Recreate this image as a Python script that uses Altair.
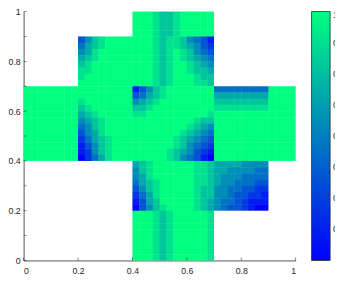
import altair as alt
import pandas as pd

# colour levels used in the grids below (digit -> value)
LEVEL_VALUES = [0.2, 0.289, 0.378, 0.467, 0.556, 0.644, 0.733, 0.822, 0.911, 1.0]
CELL = 0.025
OVERLAP = 0.0015  # hides anti-aliasing seams between neighbouring cells

# y 1.0 -> 0.9
ROWS_TOP = [
    "................999877899999............",
    "................999877899999............",
    "................999877899999............",
    "................999877899999............",
]
# y 0.9 -> 0.7
ROWS_UPPER = [
    "........35789999999878875431............",
    "........46789999999878876532............",
    "........56899999999878987543............",
    "........67899999999878987654............",
    "........78999999999878998765............",
    "........88999999999878998776............",
    "........89999999999878999877............",
    "........99999999999878999887............",
]
# y 0.7 -> 0.4
ROWS_MIDDLE = [
    "9999999999999999135789999999444444449999",
    "9999999999999999346789999999666666669999",
    "9999999989999999567899999999777777779999",
    "9999999978999999778999999999888888889999",
    "9999999967899999889999999998999999999999",
    "9999999956789999999999999877999999999999",
    "9999999945789999999999998765999999999999",
    "9999999935689999999999987654999999999999",
    "9999999924678999999999876543999999999999",
    "9999999913578999999999875432999999999999",
    "9999999912578999999998765321999999999999",
    "9999999902468999999998754310999999999999",
]
# y 0.4 -> 0.2
ROWS_LOWER = [
    "................67899999988766665555....",
    "................57899999988766555544....",
    "................56899999988765554444....",
    "................46789999988765544433....",
    "................35789999987755443322....",
    "................24689999987755433221....",
    "................13679999987654432111....",
    "................03578999987654332100....",
]
# y 0.2 -> 0.0
ROWS_BOTTOM = [
    "................999878999998............",
] * 8

X_TICKS = [0, 0.2, 0.4, 0.6, 0.8, 1]
Y_TICKS = [0, 0.1, 0.2, 0.3, 0.4, 0.5, 0.6, 0.7, 0.8, 0.9, 1]
CBAR_TICKS = [0.3, 0.4, 0.5, 0.6, 0.7, 0.8, 0.9, 1]

ROWS = ROWS_TOP + ROWS_UPPER + ROWS_MIDDLE + ROWS_LOWER + ROWS_BOTTOM

records = []
for j, row in enumerate(ROWS):
    for i, ch in enumerate(row):
        if ch == ".":
            continue
        x_end = (i + 1) * CELL
        nxt = row[i + 1] if i + 1 < len(row) else "."
        if nxt != ".":
            x_end += OVERLAP
        y_start = 1 - (j + 1) * CELL
        below = ROWS[j + 1][i] if j + 1 < len(ROWS) else "."
        if below != ".":
            y_start -= OVERLAP
        records.append({
            "x0": i * CELL, "x1": x_end,
            "y1": 1 - j * CELL, "y0": y_start,
            "v": LEVEL_VALUES[int(ch)],
        })
cells = pd.DataFrame(records)

FONT = "Liberation Sans"
TXT = "#262626"
W, H = 278.7, 255

cscale = alt.Scale(domain=[0.2, 1], range=["#0000ff", "#00ff80"], interpolate="rgb")
xscale = alt.Scale(domain=[0, 1], nice=False, zero=False)
yscale = alt.Scale(domain=[0, 1], nice=False, zero=False)

heat = alt.Chart(cells).mark_rect().encode(
    x=alt.X("x0:Q", scale=xscale, title=None,
            axis=alt.Axis(values=X_TICKS, format=".1~f", labelPadding=6)),
    x2="x1:Q",
    y=alt.Y("y0:Q", scale=yscale, title=None,
            axis=alt.Axis(values=Y_TICKS, format=".1~f", labelPadding=3.5)),
    y2="y1:Q",
    color=alt.Color("v:Q", scale=cscale, legend=alt.Legend(
        type="gradient", orient="none", legendX=295, legendY=0,
        direction="vertical", gradientLength=255, gradientThickness=19,
        title=None, values=CBAR_TICKS, format=".1~f", labelFontSize=9,
        labelFont=FONT, labelColor=TXT, labelOffset=3,
        gradientStrokeColor=TXT, gradientStrokeWidth=0.8, padding=0)),
)

xt = alt.Chart(pd.DataFrame({"t": X_TICKS})).mark_tick(
    orient="vertical", size=3, thickness=0.8, color=TXT
).encode(x=alt.X("t:Q", scale=xscale), y=alt.value(H - 1.5))

yt = alt.Chart(pd.DataFrame({"t": Y_TICKS})).mark_tick(
    orient="horizontal", size=3, thickness=0.8, color=TXT
).encode(y=alt.Y("t:Q", scale=yscale), x=alt.value(1.5))

chart = alt.layer(heat, xt, yt).properties(
    width=W, height=H,
    autosize=alt.AutoSizeParams(type="none"),
    padding={"left": 16, "top": 0.3, "right": 40.3, "bottom": 18.7},
    background="white",
).configure_view(stroke=None).configure_axis(
    grid=False, ticks=False, tickSize=0, domainColor=TXT, domainWidth=0.8,
    labelColor=TXT, labelFont=FONT, labelFontSize=9,
)

chart.save("out.html", embed_options={"renderer": "svg", "actions": False})
